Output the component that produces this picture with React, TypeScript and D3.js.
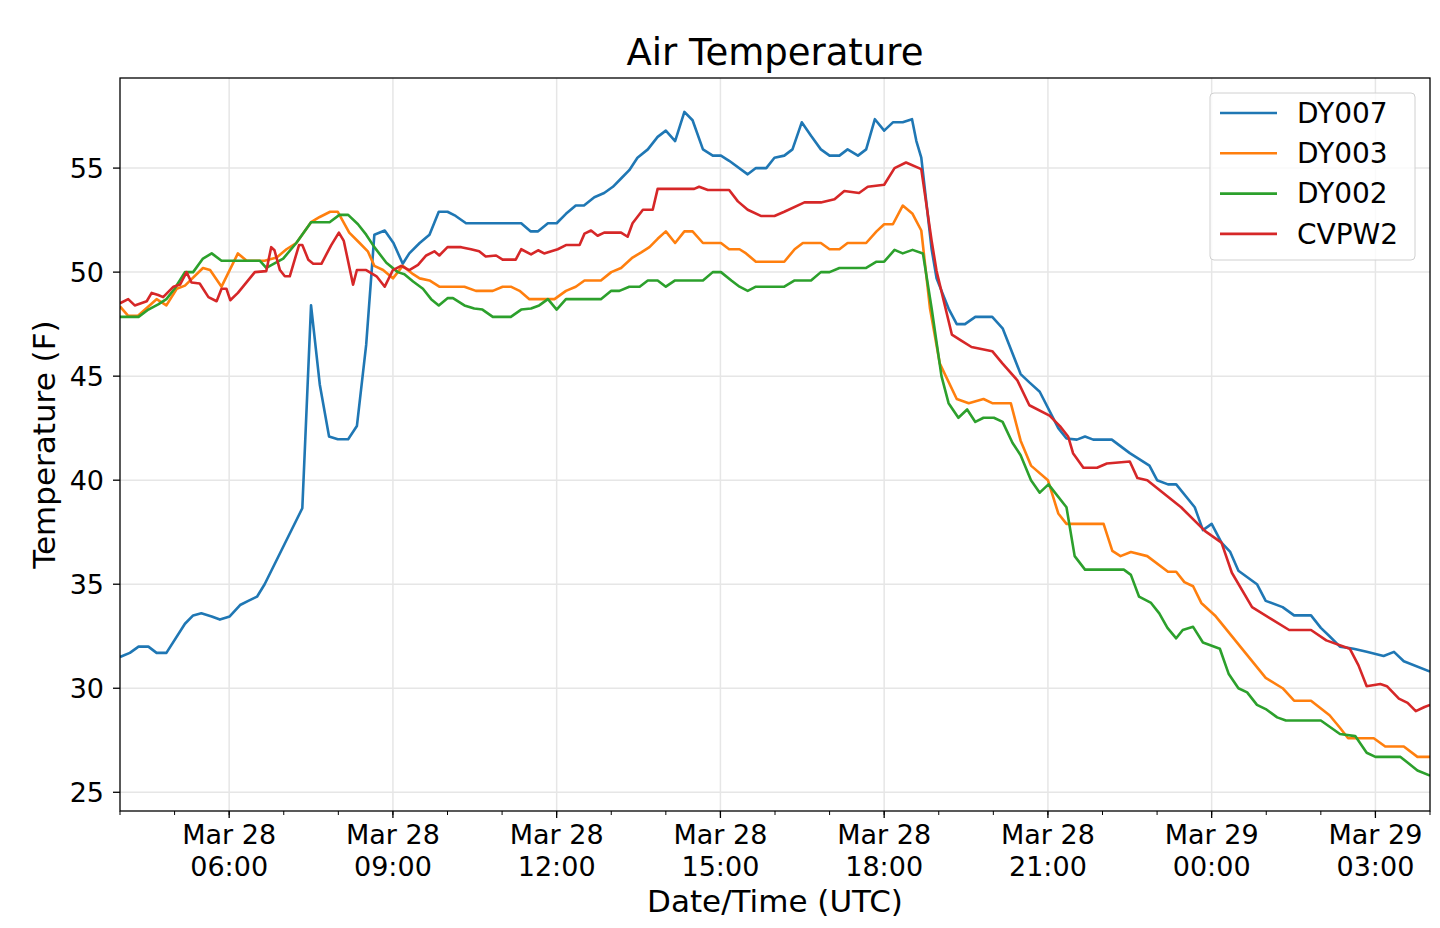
import * as d3 from "d3";

// [hours since Mar 28 00:00 UTC, temperature F]
const DY007: [number, number][] = [
  [4.0, 31.5], [4.18, 31.7], [4.34, 32.0], [4.52, 32.0], [4.67, 31.7], [4.85, 31.7], [5.19, 33.1],
  [5.34, 33.5], [5.49, 33.6], [5.68, 33.45], [5.83, 33.3], [6.01, 33.45], [6.2, 34.0], [6.35, 34.2],
  [6.51, 34.4], [6.65, 35.0], [7.34, 38.65], [7.5, 48.4], [7.66, 44.6], [7.83, 42.1], [7.99, 41.97],
  [8.18, 41.97], [8.34, 42.6], [8.51, 46.5], [8.66, 51.8], [8.85, 52.0], [9.01, 51.4], [9.18, 50.4],
  [9.3, 50.9], [9.49, 51.4], [9.67, 51.8], [9.84, 52.9], [10.0, 52.9], [10.15, 52.7], [10.34, 52.35],
  [11.35, 52.35], [11.52, 51.96], [11.66, 51.96], [11.84, 52.35], [12.0, 52.35], [12.17, 52.8],
  [12.35, 53.2], [12.5, 53.2], [12.69, 53.6], [12.87, 53.8], [13.03, 54.1], [13.18, 54.5], [13.33, 54.9],
  [13.48, 55.5], [13.67, 55.9], [13.85, 56.5], [14.0, 56.8], [14.17, 56.3], [14.34, 57.7], [14.49, 57.3],
  [14.68, 55.9], [14.86, 55.6], [15.01, 55.6], [15.16, 55.35], [15.5, 54.7], [15.65, 55.0], [15.84, 55.0],
  [15.99, 55.5], [16.17, 55.6], [16.32, 55.9], [16.49, 57.2], [16.66, 56.55], [16.84, 55.9], [17.0, 55.6],
  [17.18, 55.6], [17.33, 55.9], [17.52, 55.6], [17.67, 55.9], [17.83, 57.35], [18.0, 56.8], [18.16, 57.2],
  [18.34, 57.2], [18.51, 57.35], [18.59, 56.3], [18.68, 55.5], [18.87, 51.1], [18.96, 49.7],
  [19.18, 48.25], [19.33, 47.5], [19.48, 47.5], [19.67, 47.85], [19.98, 47.85], [20.17, 47.3],
  [20.5, 45.1], [20.66, 44.7], [20.85, 44.25], [21.19, 42.5], [21.34, 42.0], [21.53, 41.95],
  [21.68, 42.1], [21.83, 41.95], [22.17, 41.95], [22.5, 41.3], [22.86, 40.7], [23.0, 40.0], [23.2, 39.8],
  [23.35, 39.8], [23.69, 38.7], [23.84, 37.6], [24.0, 37.9], [24.18, 37.0], [24.34, 36.55],
  [24.49, 35.65], [24.83, 35.0], [24.99, 34.2], [25.3, 33.9], [25.51, 33.5], [25.82, 33.5], [26.0, 32.9],
  [26.16, 32.5], [26.35, 32.0], [26.6, 31.9], [26.84, 31.75], [27.15, 31.55], [27.34, 31.75],
  [27.52, 31.3], [28.0, 30.8],
];

const DY003: [number, number][] = [
  [4.0, 48.35], [4.15, 47.9], [4.33, 47.9], [4.67, 48.7], [4.85, 48.4], [5.04, 49.2], [5.19, 49.35],
  [5.52, 50.2], [5.65, 50.1], [5.86, 49.3], [6.16, 50.9], [6.32, 50.55], [6.65, 50.55], [6.87, 50.7],
  [7.05, 51.1], [7.23, 51.4], [7.5, 52.4], [7.66, 52.65], [7.85, 52.9], [7.99, 52.9], [8.2, 51.9],
  [8.39, 51.4], [8.54, 51.0], [8.66, 50.3], [8.82, 50.1], [9.0, 49.7], [9.18, 50.3], [9.37, 49.9],
  [9.49, 49.7], [9.67, 49.6], [9.85, 49.3], [10.31, 49.3], [10.52, 49.1], [10.83, 49.1], [11.01, 49.3],
  [11.16, 49.3], [11.32, 49.1], [11.5, 48.7], [11.96, 48.7], [12.17, 49.1], [12.35, 49.3], [12.51, 49.6],
  [12.81, 49.6], [13.0, 50.0], [13.18, 50.2], [13.39, 50.7], [13.55, 50.95], [13.7, 51.2], [13.85, 51.6],
  [14.0, 51.96], [14.17, 51.4], [14.34, 51.96], [14.49, 51.96], [14.68, 51.4], [15.01, 51.4],
  [15.16, 51.1], [15.35, 51.1], [15.47, 50.9], [15.65, 50.5], [16.17, 50.5], [16.36, 51.1], [16.51, 51.4],
  [16.84, 51.4], [17.0, 51.1], [17.18, 51.1], [17.33, 51.4], [17.67, 51.4], [17.86, 51.96], [18.0, 52.3],
  [18.16, 52.3], [18.34, 53.2], [18.52, 52.8], [18.68, 52.0], [18.84, 48.25], [19.02, 45.6],
  [19.33, 43.9], [19.55, 43.7], [19.82, 43.9], [19.98, 43.7], [20.32, 43.7], [20.5, 41.9], [20.69, 40.7],
  [21.0, 40.0], [21.19, 38.4], [21.34, 37.9], [22.02, 37.9], [22.18, 36.6], [22.33, 36.35],
  [22.52, 36.55], [22.82, 36.35], [23.2, 35.6], [23.35, 35.6], [23.5, 35.1], [23.66, 34.9], [23.81, 34.1],
  [24.06, 33.5], [24.99, 30.5], [25.3, 30.0], [25.51, 29.4], [25.82, 29.4], [26.16, 28.7], [26.35, 28.1],
  [26.5, 27.6], [26.97, 27.6], [27.18, 27.2], [27.52, 27.2], [27.77, 26.7], [28.0, 26.7],
];

const DY002: [number, number][] = [
  [4.0, 47.85], [4.34, 47.85], [4.52, 48.2], [4.7, 48.45], [4.85, 48.7], [5.0, 49.2], [5.19, 50.0],
  [5.34, 50.0], [5.52, 50.65], [5.68, 50.9], [5.86, 50.55], [6.56, 50.55], [6.68, 50.2], [6.99, 50.65],
  [7.23, 51.4], [7.5, 52.4], [7.84, 52.4], [8.02, 52.75], [8.18, 52.75], [8.36, 52.3], [8.51, 51.8],
  [8.66, 51.2], [8.88, 50.45], [9.09, 50.0], [9.21, 49.9], [9.37, 49.55], [9.55, 49.2], [9.7, 48.7],
  [9.84, 48.4], [10.0, 48.75], [10.1, 48.75], [10.31, 48.4], [10.49, 48.25], [10.64, 48.2],
  [10.83, 47.85], [11.16, 47.85], [11.35, 48.2], [11.53, 48.25], [11.68, 48.4], [11.84, 48.7],
  [12.0, 48.2], [12.17, 48.7], [12.81, 48.7], [13.0, 49.1], [13.15, 49.1], [13.33, 49.3], [13.52, 49.3],
  [13.67, 49.6], [13.85, 49.6], [14.0, 49.3], [14.17, 49.6], [14.68, 49.6], [14.86, 50.0], [15.01, 50.0],
  [15.2, 49.6], [15.35, 49.3], [15.5, 49.1], [15.65, 49.3], [16.17, 49.3], [16.36, 49.6], [16.66, 49.6],
  [16.84, 50.0], [17.0, 50.0], [17.18, 50.2], [17.67, 50.2], [17.86, 50.5], [18.0, 50.5], [18.19, 51.07],
  [18.34, 50.9], [18.52, 51.07], [18.71, 50.9], [18.87, 48.25], [19.05, 45.0], [19.18, 43.7],
  [19.36, 43.0], [19.52, 43.4], [19.67, 42.8], [19.82, 43.0], [20.01, 43.0], [20.17, 42.8],
  [20.35, 41.8], [20.5, 41.2], [20.69, 40.0], [20.85, 39.4], [21.01, 39.8], [21.34, 38.7],
  [21.49, 36.35], [21.68, 35.7], [22.39, 35.7], [22.52, 35.45], [22.67, 34.4], [22.89, 34.1],
  [23.04, 33.6], [23.19, 32.9], [23.35, 32.4], [23.47, 32.8], [23.66, 32.95], [23.84, 32.2],
  [24.15, 31.9], [24.31, 30.7], [24.49, 30.0], [24.65, 29.8], [24.83, 29.2], [24.99, 29.0], [25.2, 28.6],
  [25.36, 28.45], [26.0, 28.45], [26.35, 27.8], [26.63, 27.7], [26.84, 26.9], [27.0, 26.7],
  [27.46, 26.7], [27.77, 26.05], [28.0, 25.8],
];

const CVPW2: [number, number][] = [
  [4.0, 48.5], [4.15, 48.7], [4.27, 48.4], [4.49, 48.6], [4.58, 49.0], [4.7, 48.9], [4.79, 48.8],
  [4.98, 49.3], [5.1, 49.4], [5.22, 50.0], [5.31, 49.5], [5.46, 49.45], [5.62, 48.8], [5.77, 48.6],
  [5.86, 49.2], [5.95, 49.2], [6.02, 48.65], [6.16, 49.0], [6.47, 50.0], [6.68, 50.05], [6.77, 51.2],
  [6.83, 51.05], [6.93, 50.1], [7.02, 49.8], [7.11, 49.8], [7.28, 51.3], [7.34, 51.3], [7.45, 50.6],
  [7.54, 50.4], [7.69, 50.4], [7.87, 51.3], [8.01, 51.9], [8.1, 51.5], [8.27, 49.4], [8.34, 50.1],
  [8.51, 50.1], [8.7, 49.8], [8.85, 49.3], [9.0, 50.1], [9.15, 50.3], [9.3, 50.1], [9.46, 50.35],
  [9.61, 50.8], [9.76, 51.0], [9.85, 50.8], [10.0, 51.2], [10.25, 51.2], [10.43, 51.1], [10.58, 51.0],
  [10.7, 50.75], [10.89, 50.8], [11.01, 50.6], [11.25, 50.6], [11.35, 51.1], [11.53, 50.85],
  [11.66, 51.05], [11.77, 50.9], [12.02, 51.1], [12.17, 51.3], [12.42, 51.3], [12.51, 51.85],
  [12.63, 52.0], [12.75, 51.75], [12.87, 51.9], [13.18, 51.9], [13.3, 51.7], [13.39, 52.35],
  [13.58, 53.0], [13.76, 53.0], [13.85, 54.0], [14.52, 54.0], [14.61, 54.1], [14.77, 53.95],
  [15.16, 53.95], [15.32, 53.4], [15.5, 53.0], [15.74, 52.7], [15.99, 52.7], [16.17, 52.9],
  [16.54, 53.35], [16.84, 53.35], [17.09, 53.5], [17.27, 53.9], [17.54, 53.8], [17.7, 54.1], [18.0, 54.2],
  [18.19, 55.0], [18.4, 55.27], [18.68, 54.95], [18.87, 51.5], [18.96, 50.05], [19.24, 47.0],
  [19.42, 46.7], [19.6, 46.4], [19.98, 46.2], [20.17, 45.6], [20.44, 44.8], [20.66, 43.6], [21.03, 43.1],
  [21.22, 42.6], [21.37, 42.1], [21.46, 41.3], [21.65, 40.6], [21.9, 40.6], [22.08, 40.8], [22.5, 40.9],
  [22.64, 40.1], [22.82, 40.0], [23.44, 38.7], [23.88, 37.55], [24.18, 37.0], [24.37, 35.55],
  [24.74, 33.9], [25.11, 33.3], [25.42, 32.8], [25.82, 32.8], [26.1, 32.3], [26.53, 31.9], [26.69, 31.1],
  [26.84, 30.1], [27.09, 30.2], [27.21, 30.1], [27.43, 29.5], [27.59, 29.3], [27.74, 28.9],
  [27.9, 29.1], [28.0, 29.2],
];

const SERIES = [
  { name: "DY007", color: "#1f77b4", data: DY007 },
  { name: "DY003", color: "#ff7f0e", data: DY003 },
  { name: "DY002", color: "#2ca02c", data: DY002 },
  { name: "CVPW2", color: "#d62728", data: CVPW2 },
];

const Y_TICKS = [25, 30, 35, 40, 45, 50, 55];
const X_TICKS = [6, 9, 12, 15, 18, 21, 24, 27];
const X_MINOR = d3.range(4, 29, 1);

const W = 1440;
const H = 928;
const MARGIN = { top: 78, right: 10, bottom: 117, left: 120 };
const FONT = "DejaVu Sans, sans-serif";

const tickLabel = (h: number) => {
  const day = h >= 24 ? 29 : 28;
  const hh = String(h % 24).padStart(2, "0");
  return [`Mar ${day}`, `${hh}:00`];
};

export default function App() {
  const x = d3.scaleLinear().domain([4, 28]).range([MARGIN.left, W - MARGIN.right]);
  const y = d3.scaleLinear().domain([24.1, 59.33]).range([H - MARGIN.bottom, MARGIN.top]);
  const line = d3
    .line<[number, number]>()
    .x((d) => x(d[0]))
    .y((d) => y(d[1]));
  const x0 = MARGIN.left;
  const x1 = W - MARGIN.right;
  const y0 = H - MARGIN.bottom;
  const y1 = MARGIN.top;
  const cx = (x0 + x1) / 2;

  return (
    <svg width={W} height={H} style={{ position: "absolute", left: 0, top: 0, background: "#fff" }} fontFamily={FONT}>
      <defs>
        <clipPath id="plot">
          <rect x={x0} y={y1} width={x1 - x0} height={y0 - y1} />
        </clipPath>
      </defs>
      {/* grid */}
      {X_TICKS.map((t) => (
        <line key={"gx" + t} x1={x(t)} x2={x(t)} y1={y1} y2={y0} stroke="#e6e6e6" strokeWidth={1.5} />
      ))}
      {Y_TICKS.map((t) => (
        <line key={"gy" + t} x1={x0} x2={x1} y1={y(t)} y2={y(t)} stroke="#e6e6e6" strokeWidth={1.5} />
      ))}
      {/* lines */}
      <g clipPath="url(#plot)">
        {SERIES.map((s) => (
          <path key={s.name} d={line(s.data) || ""} fill="none" stroke={s.color} strokeWidth={2.6} strokeLinejoin="round" />
        ))}
      </g>
      {/* frame */}
      <rect x={x0} y={y1} width={x1 - x0} height={y0 - y1} fill="none" stroke="#000" strokeWidth={1.3} />
      {/* x ticks */}
      {X_MINOR.map((t) => (
        <line key={"mx" + t} x1={x(t)} x2={x(t)} y1={y0} y2={y0 + 4} stroke="#000" strokeWidth={1} />
      ))}
      {X_TICKS.map((t) => {
        const [a, b] = tickLabel(t);
        return (
          <g key={"tx" + t}>
            <line x1={x(t)} x2={x(t)} y1={y0} y2={y0 + 7} stroke="#000" strokeWidth={1.3} />
            <text x={x(t)} y={y0 + 33} textAnchor="middle" fontSize={27} fill="#000">{a}</text>
            <text x={x(t)} y={y0 + 65} textAnchor="middle" fontSize={27} fill="#000">{b}</text>
          </g>
        );
      })}
      {/* y ticks */}
      {Y_TICKS.map((t) => (
        <g key={"ty" + t}>
          <line x1={x0 - 7} x2={x0} y1={y(t)} y2={y(t)} stroke="#000" strokeWidth={1.3} />
          <text x={x0 - 16} y={y(t)} dy="0.35em" textAnchor="end" fontSize={27} fill="#000">{t}</text>
        </g>
      ))}
      {/* labels */}
      <text x={cx} y={65} textAnchor="middle" fontSize={37} fill="#000">Air Temperature</text>
      <text x={cx} y={912} textAnchor="middle" fontSize={31} fill="#000">Date/Time (UTC)</text>
      <text transform={`translate(55, ${(y0 + y1) / 2}) rotate(-90)`} textAnchor="middle" fontSize={31} fill="#000">Temperature (F)</text>
      {/* legend */}
      <g transform="translate(1210, 93)">
        <rect width={205} height={167} rx={4} fill="#fff" fillOpacity={0.8} stroke="#d0d0d0" />
        {SERIES.map((s, i) => (
          <g key={s.name} transform={`translate(0, ${20 + i * 40.3})`}>
            <line x1={10} x2={67} y1={0} y2={0} stroke={s.color} strokeWidth={2.6} />
            <text x={87} y={0} dy="0.35em" fontSize={28} fill="#000">{s.name}</text>
          </g>
        ))}
      </g>
    </svg>
  );
}
